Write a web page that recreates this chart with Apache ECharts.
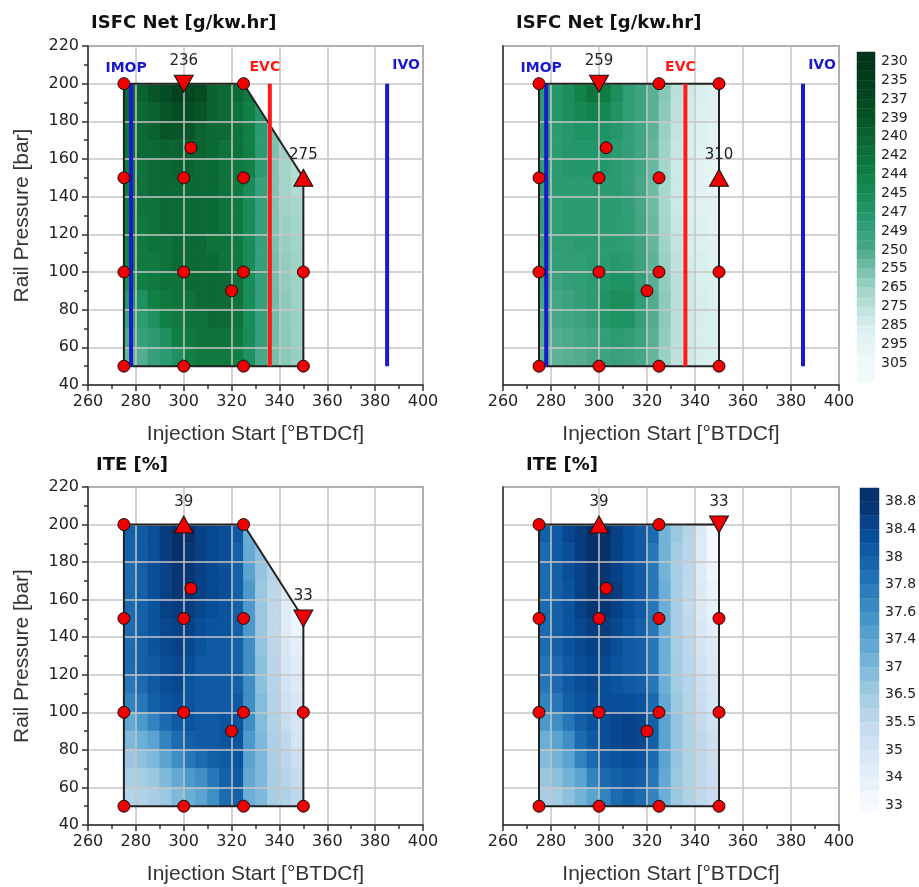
<!DOCTYPE html>
<html><head><meta charset="utf-8">
<script src="https://cdn.jsdelivr.net/npm/echarts@6/dist/echarts.min.js"></script>
<style>html,body{margin:0;padding:0;background:#fff}#c{width:919px;height:887px}</style>
</head><body><div id="c"></div>
<script>
// ---------------- data ----------------
const xCenters = [277.5,282.5,287.5,292.5,297.5,302.5,307.5,312.5,317.5,322.5,327.5,332.5,337.5,342.5,347.5];
const yCenters = [195,185,175,165,155,145,135,125,115,105,95,85,75,65,55];

// ISFC Net [g/kw.hr], case 1 (top-left)
const isfcCase1 = [
 [241,240,239,238,236,237,238,240,241,241,243,null,null,null,null],
 [241,241,240,239,238,238,239,240,241,242,244,247,null,null,null],
 [242,241,240,239,239,239,240,241,241,242,244,248,256,null,null],
 [242,241,241,240,240,240,240,241,242,242,244,248,257,264,null],
 [243,242,241,241,240,240,241,241,242,243,244,248,258,266,273],
 [243,242,241,241,241,241,241,241,242,243,245,249,258,266,271],
 [243,242,242,241,241,241,241,241,242,243,245,249,258,265,268],
 [243,243,242,241,241,241,241,241,242,243,245,249,258,264,267],
 [244,243,242,242,241,241,241,242,242,243,245,249,257,263,266],
 [244,243,243,242,241,241,241,241,242,243,245,249,256,262,265],
 [245,244,243,242,242,241,241,241,241,242,245,249,255,262,265],
 [247,246,244,243,242,242,241,241,241,242,245,249,255,261,265],
 [249,248,246,244,243,242,242,241,241,242,245,249,255,261,264],
 [250,249,248,246,244,243,242,242,242,243,245,249,255,260,264],
 [253,251,249,248,246,244,243,243,243,244,246,250,256,260,263]
];
// ISFC Net [g/kw.hr], case 2 (top-right)
const isfcCase2 = [
 [266,265,263,261,259,260,263,267,271,277,285,295,300,303,305],
 [266,265,263,262,261,262,264,267,271,277,286,296,301,304,306],
 [267,266,265,264,264,264,265,268,272,278,288,297,302,305,307],
 [267,266,265,265,265,265,266,268,272,279,289,298,303,306,308],
 [267,266,265,265,265,265,266,268,272,280,290,299,304,307,309],
 [267,266,266,266,266,266,266,268,273,281,291,299,304,307,309],
 [267,267,266,266,266,266,266,268,273,281,291,299,304,306,308],
 [268,267,266,266,266,266,266,267,272,280,290,298,303,305,307],
 [268,267,267,266,266,266,266,267,271,279,289,297,302,304,306],
 [269,268,267,267,266,266,265,266,270,278,288,296,301,303,305],
 [271,270,268,267,266,265,264,264,268,277,287,295,300,303,304],
 [273,272,270,268,266,264,263,263,267,276,286,295,300,302,304],
 [275,274,272,270,268,265,264,264,268,276,286,295,300,302,303],
 [277,276,275,273,271,268,266,267,270,277,287,295,300,302,303],
 [279,278,277,276,274,271,269,270,273,279,288,296,300,302,303]
];
// ITE [%], case 1 (bottom-left)
const iteCase1 = [
 [38.0,38.1,38.3,38.6,38.9,38.8,38.5,38.4,38.3,38.1,37.2,null,null,null,null],
 [38.0,38.1,38.3,38.6,38.8,38.7,38.5,38.4,38.3,38.0,37.3,36.8,null,null,null],
 [37.9,38.0,38.3,38.5,38.7,38.7,38.5,38.4,38.3,38.0,37.4,36.7,35.8,null,null],
 [37.9,38.0,38.3,38.5,38.7,38.7,38.5,38.4,38.3,38.0,37.5,36.6,35.6,34.5,null],
 [37.9,38.0,38.2,38.5,38.6,38.6,38.4,38.3,38.2,38.0,37.5,36.6,35.5,34.3,33.3],
 [37.9,38.0,38.2,38.4,38.5,38.5,38.3,38.2,38.2,38.0,37.5,36.6,35.5,34.4,33.5],
 [37.9,38.0,38.2,38.4,38.5,38.4,38.2,38.1,38.1,38.0,37.6,36.7,35.6,34.6,34.0],
 [37.9,38.0,38.1,38.3,38.4,38.3,38.1,38.1,38.1,38.0,37.6,36.8,35.7,34.8,34.3],
 [37.8,37.9,38.1,38.3,38.4,38.2,38.1,38.1,38.1,38.0,37.6,36.8,35.8,35.0,34.5],
 [37.7,37.8,38.0,38.2,38.3,38.2,38.1,38.1,38.1,38.1,37.6,36.9,35.9,35.1,34.7],
 [37.3,37.5,37.7,37.9,38.1,38.2,38.1,38.1,38.2,38.2,37.6,36.9,36.0,35.3,34.9],
 [37.0,37.2,37.4,37.7,37.9,38.0,38.1,38.1,38.2,38.2,37.5,37.0,36.1,35.5,35.0],
 [36.6,36.8,37.0,37.4,37.6,37.8,37.9,38.0,38.1,38.2,37.4,37.0,36.2,35.6,35.2],
 [36.2,36.4,36.6,37.0,37.3,37.5,37.6,37.8,38.0,38.1,37.3,37.0,36.3,35.8,35.4],
 [35.8,36.0,36.3,36.6,37.0,37.2,37.4,37.6,37.9,38.0,37.2,37.0,36.4,36.0,35.6]
];
// ITE [%], case 2 (bottom-right)
const iteCase2 = [
 [38.0,38.1,38.4,38.6,38.9,38.8,38.5,38.3,38.1,37.9,37.1,36.6,35.8,34.5,33.2],
 [37.9,38.1,38.3,38.6,38.8,38.8,38.5,38.3,38.1,37.8,37.1,36.5,35.7,34.4,33.3],
 [37.9,38.0,38.3,38.5,38.7,38.7,38.5,38.3,38.1,37.8,37.1,36.4,35.6,34.4,33.5],
 [37.9,38.0,38.2,38.5,38.7,38.7,38.6,38.3,38.1,37.8,37.2,36.4,35.5,34.5,33.7],
 [37.9,38.0,38.2,38.5,38.7,38.7,38.5,38.3,38.1,37.8,37.2,36.3,35.4,34.5,33.9],
 [37.9,38.0,38.2,38.4,38.6,38.6,38.4,38.2,38.0,37.8,37.2,36.3,35.5,34.7,34.1],
 [37.9,38.0,38.2,38.4,38.5,38.5,38.3,38.1,38.0,37.8,37.2,36.4,35.6,34.9,34.4],
 [37.8,37.9,38.1,38.3,38.4,38.4,38.2,38.1,38.0,37.8,37.2,36.5,35.7,35.1,34.6],
 [37.8,37.9,38.1,38.3,38.4,38.3,38.2,38.1,38.0,37.8,37.2,36.5,35.8,35.2,34.8],
 [37.7,37.8,38.0,38.2,38.3,38.3,38.3,38.3,38.2,37.9,37.3,36.6,35.9,35.3,35.0],
 [37.5,37.6,37.8,38.0,38.2,38.3,38.4,38.5,38.4,38.0,37.4,36.7,36.0,35.4,35.1],
 [37.2,37.4,37.6,37.9,38.1,38.3,38.4,38.5,38.4,38.0,37.4,36.7,36.0,35.5,35.2],
 [36.9,37.1,37.4,37.7,37.9,38.1,38.2,38.3,38.2,37.9,37.4,36.7,36.0,35.5,35.2],
 [36.6,36.8,37.1,37.4,37.7,37.9,38.0,38.1,38.0,37.8,37.3,36.6,36.0,35.5,35.3],
 [36.3,36.5,36.8,37.1,37.4,37.7,37.9,38.0,37.9,37.7,37.2,36.6,36.0,35.5,35.3]
];

// colour-bar levels
const isfcLevels = [230,235,237,239,240,242,244,245,247,249,250,255,265,275,285,295,305];
const iteLevels = [38.8,38.4,38,37.8,37.6,37.4,37,36.5,35.5,35,34,33];
// case-2 ISFC shading stops (value -> position on the green ramp)
const isfcCase2Stops = [259,263,266,270,275,280,290,300,310];
const isfcCase2StopPos = [0.33,0.45,0.53,0.58,0.63,0.67,0.76,0.86,0.95];

// test-point layout
const pointsCommon = [[275,200],[275,150],[275,100],[275,50],[300,150],[300,100],[300,50],[303,166],
  [325,200],[325,150],[325,100],[325,50],[320,90],[350,100],[350,50]];
const pointsExtraTopRight = [[350,200]];
const pointsExtraBottomRight = [[350,150]];
// extremes: [x, y, value, direction]
const extremesIsfc1 = [[300,200,236,'down'],[350,150,275,'up']];
const extremesIsfc2 = [[300,200,259,'down'],[350,150,310,'up']];
const extremesIte1 = [[300,200,39,'up'],[350,150,33,'down']];
const extremesIte2 = [[300,200,39,'up'],[350,200,33,'down']];

// operating-region boundaries
const boundaryCut = [[275,50],[275,200],[325,200],[350,150],[350,50]];
const boundaryRect = [[275,50],[275,200],[350,200],[350,50]];

// valve events [name, crank angle]
const valveEvents = [['IMOP',278],['EVC',336],['IVO',385]];
const eventRange = [50,200];

// ---------------- helpers ----------------
const greenRamp = ['#00331a','#03471f','#0b6331','#108044','#23976a','#4aa88a','#9fd3c6','#d7eeec','#f1fafb'];
const blueRamp = ['#08306b','#08519c','#2171b5','#4292c6','#6baed6','#9ecae1','#c6dbef','#deebf7','#f7fbff'];
const clamp01 = t => Math.max(0, Math.min(1, t));
function levelPos(v, levels) {
  const n = levels.length, inc = levels[n-1] > levels[0];
  for (let i = 0; i < n-1; i++) {
    const a = levels[i], b = levels[i+1];
    if ((inc && v <= b) || (!inc && v >= b)) return i + Math.max(0, Math.min(1, (v-a)/(b-a)));
  }
  return n-1;
}
function stopPos(v, stops, pos) {
  for (let i = 0; i < stops.length-1; i++) {
    if (v <= stops[i+1]) return pos[i] + (pos[i+1]-pos[i]) * Math.max(0,(v-stops[i])/(stops[i+1]-stops[i]));
  }
  return pos[pos.length-1];
}
const colIsfc1 = v => echarts.color.lerp(clamp01(levelPos(v, isfcLevels)/(isfcLevels.length-1)), greenRamp);
const colIsfc2 = v => echarts.color.lerp(clamp01(stopPos(v, isfcCase2Stops, isfcCase2StopPos)), greenRamp);
const colIte = v => echarts.color.lerp(clamp01(levelPos(v, iteLevels)/(iteLevels.length-1)), blueRamp);

function clipConvex(subject, clip) {
  let area = 0;
  for (let i = 0; i < clip.length; i++) { const a = clip[i], b = clip[(i+1)%clip.length]; area += a[0]*b[1]-b[0]*a[1]; }
  const s = area > 0 ? 1 : -1;
  let out = subject;
  for (let i = 0; i < clip.length && out.length; i++) {
    const a = clip[i], b = clip[(i+1)%clip.length];
    const side = p => s*((b[0]-a[0])*(p[1]-a[1]) - (b[1]-a[1])*(p[0]-a[0]));
    const inp = out; out = [];
    for (let j = 0; j < inp.length; j++) {
      const P = inp[j], Q = inp[(j+1)%inp.length], sp = side(P), sq = side(Q);
      if (sp >= -1e-9) out.push(P);
      if ((sp >= -1e-9) !== (sq >= -1e-9)) { const t = sp/(sp-sq); out.push([P[0]+t*(Q[0]-P[0]), P[1]+t*(Q[1]-P[1])]); }
    }
  }
  return out;
}

const FONT = 'DejaVu Sans';
const dx = (xCenters[1]-xCenters[0])/2, dy = (yCenters[0]-yCenters[1])/2;

function fieldSeries(gi, grid, colorFn, clipPoly) {
  const data = [];
  grid.forEach((row, r) => row.forEach((v, c) => { if (v != null) data.push([xCenters[c], yCenters[r], v]); }));
  return {
    type: 'custom', xAxisIndex: gi, yAxisIndex: gi, z: 1, silent: true, data,
    encode: {x: 0, y: 1},
    renderItem: function (params, api) {
      const xc = api.value(0), yc = api.value(1), v = api.value(2);
      const poly = clipConvex([[xc-dx,yc-dy],[xc+dx,yc-dy],[xc+dx,yc+dy],[xc-dx,yc+dy]], clipPoly);
      if (poly.length < 3) return null;
      const c = colorFn(v);
      return {type: 'polygon', shape: {points: poly.map(p => api.coord(p))}, style: {fill: c, stroke: c, lineWidth: 0.8}};
    }
  };
}
function outlineSeries(gi, poly) {
  return {type: 'line', xAxisIndex: gi, yAxisIndex: gi, z: 4, silent: true, showSymbol: false, symbol: 'none',
    data: poly.concat([poly[0]]), lineStyle: {color: '#222', width: 2, opacity: 1}, animation: false};
}
function eventSeries(gi) {
  const out = [];
  const cols = {IMOP: '#1a1acc', EVC: '#ff1a1a', IVO: '#1a1acc'};
  const offs = {IMOP: [-5, -15], EVC: [-5, -16], IVO: [19, -18]};
  valveEvents.forEach(([name, x]) => {
    out.push({type: 'line', xAxisIndex: gi, yAxisIndex: gi, z: 4, silent: true, symbol: 'none', animation: false,
      data: [[x, eventRange[0]], [x, eventRange[1]]], lineStyle: {color: cols[name], width: 4, opacity: 1}});
    out.push({type: 'scatter', xAxisIndex: gi, yAxisIndex: gi, z: 6, silent: true, symbolSize: 1,
      itemStyle: {color: 'rgba(0,0,0,0)', opacity: 1}, data: [[x, eventRange[1]]],
      label: {show: true, position: 'inside', offset: offs[name], formatter: name, opacity: 1,
        fontFamily: FONT, fontWeight: 'bold', fontSize: 14, color: cols[name]}});
  });
  return out;
}
function pointSeries(gi, pts) {
  return {type: 'scatter', xAxisIndex: gi, yAxisIndex: gi, z: 5, silent: true, symbol: 'circle', symbolSize: 12,
    data: pts, itemStyle: {color: '#ee0000', borderColor: '#111', borderWidth: 1, opacity: 1}};
}
function extremeSeries(gi, ext) {
  return {type: 'scatter', xAxisIndex: gi, yAxisIndex: gi, z: 5, silent: true, symbol: 'triangle', symbolSize: [19, 17],
    data: ext.map(e => ({value: [e[0], e[1]], symbolRotate: e[3] === 'down' ? 180 : 0, label: {formatter: String(e[2])}})),
    itemStyle: {color: '#ee0000', borderColor: '#111', borderWidth: 1, opacity: 1},
    label: {show: true, position: 'top', distance: 6, fontFamily: FONT, fontSize: 15, color: '#222', opacity: 1}};
}

const panelGrids = [
  {left: 88, top: 46, width: 335, height: 339},
  {left: 503, top: 46, width: 336, height: 339},
  {left: 88, top: 487, width: 335, height: 338},
  {left: 503, top: 487, width: 336, height: 338}
];
const barGrids = [
  {left: 857, top: 52, width: 18, height: 330},
  {left: 860, top: 488, width: 19, height: 324}
];

const tickStyle = {color: '#333', width: 1.5};
function xAxisFor(gi) {
  return {gridIndex: gi, type: 'value', min: 260, max: 400, interval: 20, z: 3,
    axisLine: {show: true, onZero: false, lineStyle: tickStyle},
    axisTick: {show: true, length: 6, lineStyle: tickStyle},
    minorTick: {show: true, splitNumber: 2, length: 4, lineStyle: tickStyle},
    axisLabel: {fontFamily: FONT, fontSize: 16, color: '#222', margin: 9},
    splitLine: {show: true, lineStyle: {color: '#c6c6c6', width: 1.5}},
    name: 'Injection Start [°BTDCf]', nameLocation: 'middle', nameGap: 39,
    nameTextStyle: {fontFamily: 'Liberation Sans', fontSize: 21, color: '#333'}};
}
function yAxisFor(gi, labelled) {
  const ax = {gridIndex: gi, type: 'value', min: 40, max: 220, interval: 20, z: 3,
    axisLine: {show: true, onZero: false, lineStyle: tickStyle},
    axisTick: {show: labelled, length: 6, lineStyle: tickStyle},
    minorTick: {show: labelled, splitNumber: 2, length: 4, lineStyle: tickStyle},
    axisLabel: {show: labelled, fontFamily: FONT, fontSize: 16, color: '#222', margin: 9},
    splitLine: {show: true, lineStyle: {color: '#c6c6c6', width: 1.5}}};
  if (labelled) Object.assign(ax, {name: 'Rail Pressure [bar]', nameLocation: 'middle', nameGap: 55,
    nameTextStyle: {fontFamily: 'Liberation Sans', fontSize: 21, color: '#333'}});
  return ax;
}
function barAxes(gi, levels, maxUnits) {
  return [
    {gridIndex: gi, type: 'value', min: 0, max: 1, show: false},
    {gridIndex: gi, type: 'value', min: 0, max: maxUnits, interval: 1, inverse: true, position: 'right',
      axisLine: {show: false}, axisTick: {show: false}, splitLine: {show: false},
      axisLabel: {show: true, margin: 6, fontFamily: FONT, fontSize: 14, color: '#222',
        formatter: v => (Math.round(v) === v && v % 2 === 1 && (v-1)/2 < levels.length) ? String(levels[(v-1)/2]) : ''}}
  ];
}
function barSeries(gi, levels, ramp, maxUnits) {
  const n = Math.ceil(maxUnits), data = [];
  for (let i = 0; i < n; i++) data.push([0, i]);
  return {type: 'custom', xAxisIndex: gi, yAxisIndex: gi, silent: true, data, encode: {x: 0, y: 1},
    renderItem: function (params, api) {
      const i = api.value(1);
      const p0 = api.coord([0, i]), p1 = api.coord([1, Math.min(i+1, maxUnits)]);
      const t = clamp01((i - 0.5) / 2 / (levels.length - 1));
      const c = echarts.color.lerp(t, ramp);
      return {type: 'rect', shape: {x: p0[0], y: Math.min(p0[1], p1[1]), width: p1[0]-p0[0], height: Math.abs(p1[1]-p0[1])},
        style: {fill: c, stroke: c, lineWidth: 0.5}};
    }};
}

const isfcBarUnits = 2*isfcLevels.length + 1;
const iteBarUnits = 2*iteLevels.length - 0.5;
const xb = barAxes(4, isfcLevels, isfcBarUnits), yb = barAxes(5, iteLevels, iteBarUnits);

const titleStyle = {fontFamily: FONT, fontWeight: 'bold', fontSize: 18, color: '#111'};
const option = {
  animation: false,
  backgroundColor: '#fff',
  title: [
    {text: 'ISFC Net [g/kw.hr]', left: 86, top: 9, textStyle: titleStyle},
    {text: 'ISFC Net [g/kw.hr]', left: 511, top: 9, textStyle: titleStyle},
    {text: 'ITE [%]', left: 91, top: 451, textStyle: titleStyle},
    {text: 'ITE [%]', left: 521, top: 451, textStyle: titleStyle}
  ],
  grid: panelGrids.concat(barGrids).map((g, i) => Object.assign({show: i < 4, borderColor: '#444', borderWidth: 1.5,
    backgroundColor: 'transparent', outerBoundsMode: 'none', containLabel: false}, g)),
  xAxis: [xAxisFor(0), xAxisFor(1), xAxisFor(2), xAxisFor(3), xb[0], yb[0]],
  yAxis: [yAxisFor(0, true), yAxisFor(1, false), yAxisFor(2, true), yAxisFor(3, false), xb[1], yb[1]],
  series: [
    fieldSeries(0, isfcCase1, colIsfc1, boundaryCut),
    fieldSeries(1, isfcCase2, colIsfc2, boundaryRect),
    fieldSeries(2, iteCase1, colIte, boundaryCut),
    fieldSeries(3, iteCase2, colIte, boundaryRect),
    outlineSeries(0, boundaryCut), outlineSeries(1, boundaryRect),
    outlineSeries(2, boundaryCut), outlineSeries(3, boundaryRect),
    ...eventSeries(0), ...eventSeries(1),
    pointSeries(0, pointsCommon), pointSeries(1, pointsCommon.concat(pointsExtraTopRight)),
    pointSeries(2, pointsCommon), pointSeries(3, pointsCommon.concat(pointsExtraBottomRight)),
    extremeSeries(0, extremesIsfc1), extremeSeries(1, extremesIsfc2),
    extremeSeries(2, extremesIte1), extremeSeries(3, extremesIte2),
    barSeries(4, isfcLevels, greenRamp, isfcBarUnits),
    barSeries(5, iteLevels, blueRamp, iteBarUnits)
  ]
};
const chart = echarts.init(document.getElementById('c'), null, {renderer: 'canvas', devicePixelRatio: 1});
chart.setOption(option);
</script></body></html>
